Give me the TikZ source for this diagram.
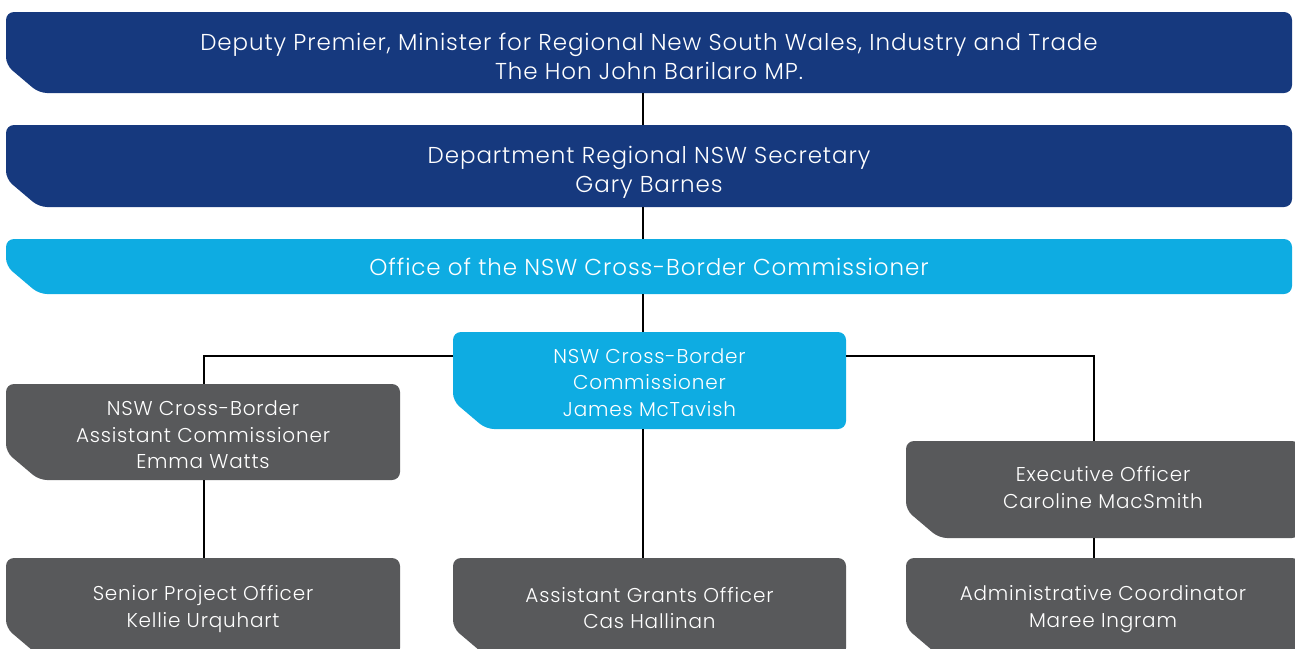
\documentclass[tikz,border=0pt]{standalone}
\usepackage{fontspec}
\setmainfont{Poppins Light}[LetterSpace=4]
\definecolor{navy}{RGB}{22,57,126}
\definecolor{sky}{RGB}{14,172,226}
\definecolor{slate}{RGB}{88,89,91}
\tikzset{
  boxtext/.style={text=white, align=center, inner sep=0pt, outer sep=0pt},
  bigtext/.style={boxtext, font=\fontsize{23}{29}\selectfont},
  smalltext/.style={boxtext, font=\fontsize{20}{26.5}\selectfont},
  boxarea/.style={inner sep=0pt, outer sep=0pt},
  conn/.style={draw=black, line width=2pt},
}
% #1 name, #2 x1, #3 y1, #4 x2, #5 y2, #6 colour, #7 text style, #8 text, #9 text shift down
\newcommand\orgbox[9]{%
  \fill[#6, rounded corners=8pt] (#2,#3) -- (#4,#3) -- (#4,#5) -- ({#2+33},#5) -- (#2,{#5-28}) -- cycle;
  \node[boxarea, minimum width={(#4-#2)*1pt}, minimum height={(#5-#3)*1pt}] (#1) at ({(#2+#4)/2},{(#3+#5)/2}) {};
  \node[#7] (#1-text) at ([yshift={-(#9)*1pt}]#1.center) {#8};
}
\begin{document}
\begin{tikzpicture}[x=1pt,y=-1pt]
\useasboundingbox (0,0) rectangle (1295,648);
\clip (0,0) rectangle (1295,648);
\coordinate (trunk) at (643,0);
\coordinate (lh) at (204,356);
\coordinate (rh) at (1094,356);

\orgbox{dp}{6}{12}{1292}{93}{navy}{bigtext}{Deputy Premier, Minister for Regional New South Wales, Industry and Trade\\The Hon John Barilaro MP.}{4}
\orgbox{sec}{6}{125}{1292}{207}{navy}{bigtext}{Department Regional NSW Secretary\\Gary Barnes}{6}
\orgbox{off}{6}{239}{1292}{294}{sky}{bigtext}{Office of the NSW Cross-Border Commissioner}{0}
\orgbox{com}{453}{332}{846}{429}{sky}{smalltext}{NSW Cross-Border\\Commissioner\\James McTavish}{2}
\orgbox{asc}{6}{384}{400}{480}{slate}{smalltext}{NSW Cross-Border\\Assistant Commissioner\\Emma Watts}{3}
\orgbox{exo}{906}{441}{1300}{538}{slate}{smalltext}{Executive Officer\\Caroline MacSmith}{-2}
\orgbox{spo}{6}{558}{400}{656}{slate}{smalltext}{Senior Project Officer\\Kellie Urquhart}{2}
\orgbox{ago}{453}{558}{846}{656}{slate}{smalltext}{Assistant Grants Officer\\Cas Hallinan}{1}
\orgbox{adc}{906}{558}{1300}{656}{slate}{smalltext}{Administrative Coordinator\\Maree Ingram}{2}

\draw[conn] (dp.south -| trunk) -- (sec.north -| trunk);
\draw[conn] (sec.south -| trunk) -- (off.north -| trunk);
\draw[conn] (off.south -| trunk) -- (com.north -| trunk);
\draw[conn] (com.south -| trunk) -- (ago.north -| trunk);
\draw[conn] (com.west |- lh) -- (lh) -- (asc.north -| lh);
\draw[conn] (com.east |- rh) -- (rh) -- (exo.north -| rh);
\draw[conn] (asc.south -| lh) -- (spo.north -| lh);
\draw[conn] (exo.south -| rh) -- (adc.north -| rh);
\end{tikzpicture}
\end{document}
